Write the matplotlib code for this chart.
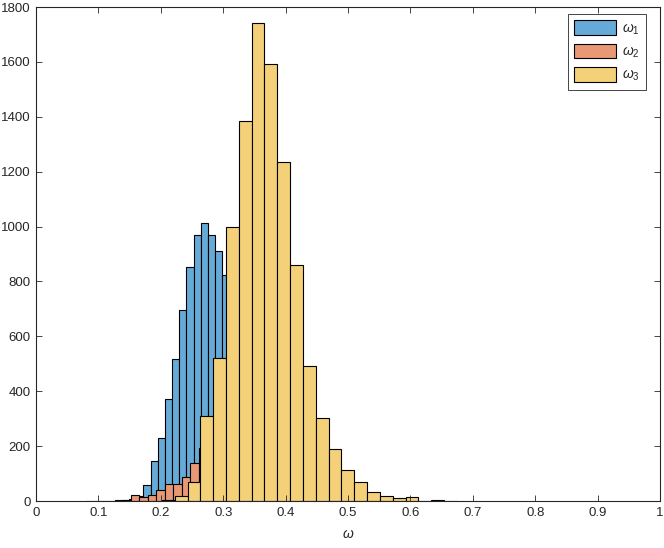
import matplotlib
matplotlib.use("Agg")
import matplotlib.pyplot as plt
import numpy as np

plt.rcParams['font.family'] = ['Liberation Sans', 'DejaVu Sans']
plt.rcParams['mathtext.fontset'] = 'custom'
plt.rcParams['mathtext.it'] = 'Liberation Sans:italic'
plt.rcParams['mathtext.rm'] = 'Liberation Sans'

# histogram data (bin start, bin width, counts)
w1_start, w1_width = 0.0800, 0.0115
w1_counts = [1, 0, 0, 1, 2, 4, 8, 20, 58, 146, 231, 372, 516, 697, 852, 969, 1012,
             970, 912, 825, 720, 610, 490, 380, 280, 200, 130, 80, 50, 30, 15, 8, 4, 2, 1]

w2_start, w2_width = 0.1245, 0.01362
w2_counts = [1, 4, 21, 13, 23, 41, 63, 63, 87, 140, 193, 215, 225, 205, 170, 130,
             90, 55, 30, 15, 7, 3, 1]

w3_start, w3_width = 0.2017, 0.02055
w3_counts = [3, 17, 69, 310, 520, 1000, 1385, 1740, 1594, 1235, 860, 492, 301, 191,
             112, 70, 33, 19, 10, 13, 1, 2, 1]

labels = [r'$\omega_1$', r'$\omega_2$', r'$\omega_3$']
colors = ['#66AAD7', '#E89875', '#F4D079']

x_ticks = [0, 0.1, 0.2, 0.3, 0.4, 0.5, 0.6, 0.7, 0.8, 0.9, 1]
x_tick_labels = ['0', '0.1', '0.2', '0.3', '0.4', '0.5', '0.6', '0.7', '0.8', '0.9', '1']
y_ticks = [0, 200, 400, 600, 800, 1000, 1200, 1400, 1600, 1800]

fig = plt.figure(figsize=(6.64, 5.48), dpi=100)
ax = fig.add_axes([36 / 664, 47 / 548, 624 / 664, 494 / 548])

series = [(w1_start, w1_width, w1_counts),
          (w2_start, w2_width, w2_counts),
          (w3_start, w3_width, w3_counts)]
for (start, width, counts), lab, col in zip(series, labels, colors):
    edges = start + width * np.arange(len(counts))
    ax.bar(edges, counts, width=width, align='edge', color=col,
           edgecolor='black', linewidth=0.8, label=lab)

ax.set_xlim(0, 1)
ax.set_ylim(0, 1800)
ax.set_xticks(x_ticks)
ax.set_xticklabels(x_tick_labels)
ax.set_yticks(y_ticks)
ax.tick_params(direction='in', top=True, right=True, length=4, width=0.6,
               labelsize=9.5, colors='#262626', pad=4)
for sp in ax.spines.values():
    sp.set_linewidth(0.8)
    sp.set_color('#262626')
ax.set_xlabel(r'$\omega$', fontsize=10, color='#262626', labelpad=6)

leg = ax.legend(loc='upper right', bbox_to_anchor=(0.9776, 0.9858), borderaxespad=0,
                fontsize=10, fancybox=False, framealpha=1, edgecolor='#262626',
                handlelength=3.0, handleheight=1.25, labelspacing=0.5,
                handletextpad=0.45, borderpad=0.45)
leg.get_frame().set_linewidth(0.6)
for t in leg.get_texts():
    t.set_color('#262626')

fig.savefig('out.png', dpi=100)
